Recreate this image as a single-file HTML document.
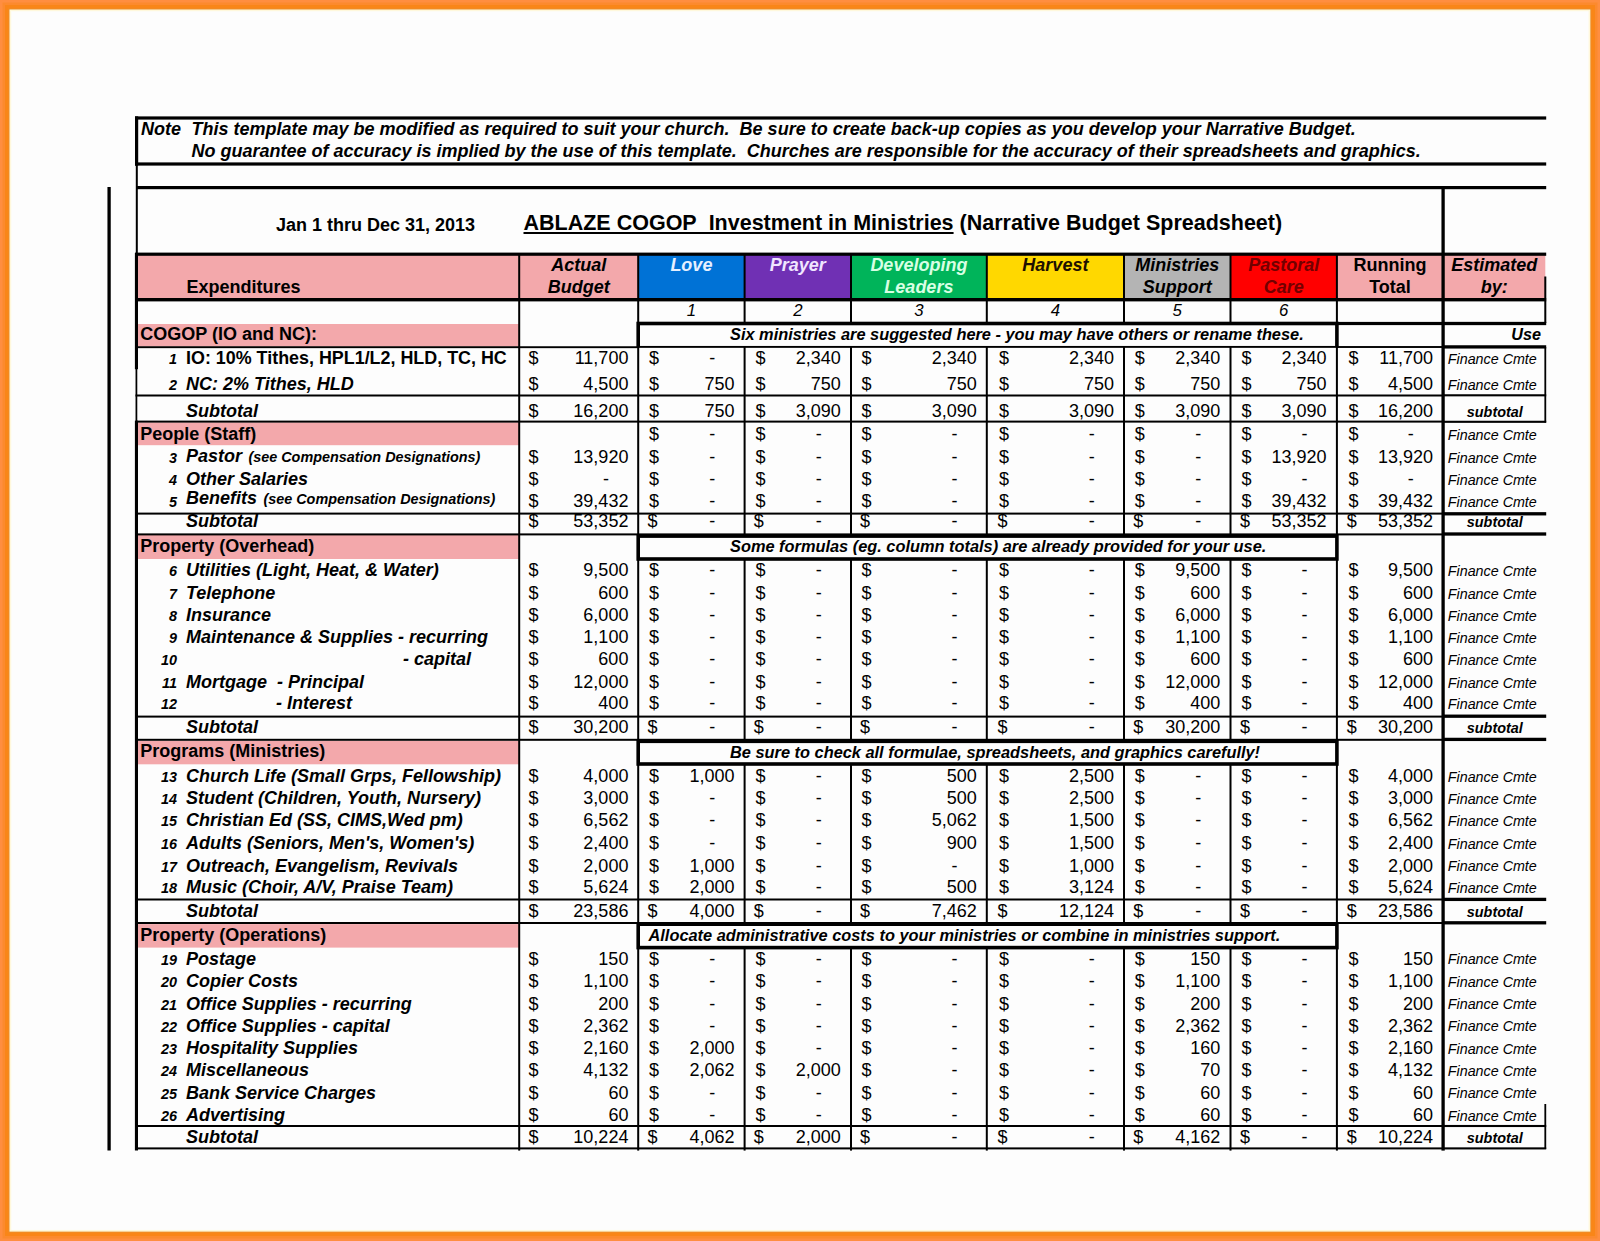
<!DOCTYPE html>
<html><head><meta charset="utf-8"><title>Narrative Budget Spreadsheet</title>
<style>
html,body{margin:0;padding:0;width:1600px;height:1241px;overflow:hidden;}
body{width:1600px;height:1241px;position:relative;overflow:hidden;background:#FA8A2A;font-family:"Liberation Sans",sans-serif;color:#000;}
svg{position:absolute;left:0;top:0;}
.t{position:absolute;white-space:nowrap;line-height:24px;height:24px;font-size:18px;}
.b{font-weight:bold;}
.i{font-style:italic;}
.bi{font-weight:bold;font-style:italic;}
.sm{font-size:14.4px;margin-left:1.4px;}
.u{text-decoration:underline;text-decoration-thickness:1.6px;text-underline-offset:2px;}
</style></head><body>
<svg width="1600" height="1241" viewBox="0 0 1600 1241">
<rect x="0" y="0" width="1600" height="1241" fill="#FF8E40"/>
<rect x="2.5" y="2.5" width="1595" height="1236" fill="#FC8A2E"/>
<rect x="5" y="5" width="1590" height="1231" fill="#F98618"/>
<rect x="8.6" y="8.6" width="1582.6000000000001" height="1223.9" fill="#E8902E"/>
<rect x="9.5" y="9.5" width="1580.8" height="1222.1" fill="#FFF8DC"/>
<rect x="11.2" y="11.2" width="1577.3999999999999" height="1218.7" fill="#FDFDFD"/>
<rect x="136.70" y="254.20" width="382.50" height="45.50" fill="#F3A8AB"/>
<rect x="519.20" y="254.20" width="119.00" height="45.50" fill="#F3A8AB"/>
<rect x="638.20" y="254.20" width="106.40" height="45.50" fill="#0072D6"/>
<rect x="744.60" y="254.20" width="106.40" height="45.50" fill="#7030B4"/>
<rect x="851.00" y="254.20" width="135.80" height="45.50" fill="#00B45A"/>
<rect x="986.80" y="254.20" width="137.20" height="45.50" fill="#FFD800"/>
<rect x="1124.00" y="254.20" width="106.50" height="45.50" fill="#B4B4B4"/>
<rect x="1230.50" y="254.20" width="106.40" height="45.50" fill="#FF0000"/>
<rect x="1336.90" y="254.20" width="106.20" height="45.50" fill="#F3A8AB"/>
<rect x="1443.10" y="254.20" width="102.20" height="45.50" fill="#F3A8AB"/>
<rect x="136.70" y="324.00" width="382.50" height="22.60" fill="#F3A8AB"/>
<rect x="136.70" y="422.30" width="382.50" height="22.90" fill="#F3A8AB"/>
<rect x="136.70" y="535.00" width="382.50" height="24.00" fill="#F3A8AB"/>
<rect x="136.70" y="740.90" width="382.50" height="23.40" fill="#F3A8AB"/>
<rect x="136.70" y="924.10" width="382.50" height="23.50" fill="#F3A8AB"/>
<rect x="107.45" y="187.00" width="3.30" height="963.50" fill="#000"/>
<rect x="135.00" y="116.40" width="1411.20" height="3.20" fill="#000"/>
<rect x="135.00" y="162.40" width="1411.20" height="3.20" fill="#000"/>
<rect x="135.00" y="116.40" width="3.20" height="49.20" fill="#000"/>
<rect x="135.80" y="165.00" width="2.00" height="88.00" fill="#000"/>
<rect x="136.00" y="186.00" width="1410.20" height="3.20" fill="#000"/>
<rect x="134.90" y="253.00" width="3.10" height="116.20" fill="#000"/>
<rect x="135.53" y="369.00" width="1.75" height="52.00" fill="#000"/>
<rect x="134.90" y="420.75" width="3.10" height="729.75" fill="#000"/>
<rect x="135.00" y="252.60" width="1411.20" height="3.20" fill="#000"/>
<rect x="135.00" y="298.00" width="1411.20" height="3.40" fill="#000"/>
<rect x="518.20" y="253.00" width="2.00" height="897.60" fill="#000"/>
<rect x="637.20" y="253.00" width="2.00" height="897.60" fill="#000"/>
<rect x="743.60" y="253.00" width="2.00" height="897.60" fill="#000"/>
<rect x="850.00" y="253.00" width="2.00" height="897.60" fill="#000"/>
<rect x="985.80" y="253.00" width="2.00" height="897.60" fill="#000"/>
<rect x="1123.00" y="253.00" width="2.00" height="897.60" fill="#000"/>
<rect x="1229.50" y="253.00" width="2.00" height="897.60" fill="#000"/>
<rect x="1335.90" y="253.00" width="2.00" height="897.60" fill="#000"/>
<rect x="1441.45" y="187.00" width="3.30" height="963.60" fill="#000"/>
<rect x="1544.30" y="276.50" width="2.00" height="46.50" fill="#000"/>
<rect x="1544.40" y="347.00" width="1.80" height="75.50" fill="#000"/>
<rect x="1544.40" y="1104.00" width="1.80" height="45.00" fill="#000"/>
<rect x="135.50" y="394.50" width="1307.60" height="2.00" fill="#000"/>
<rect x="135.50" y="420.60" width="1307.60" height="2.00" fill="#000"/>
<rect x="135.50" y="512.60" width="1307.60" height="2.00" fill="#000"/>
<rect x="135.50" y="533.40" width="1307.60" height="2.00" fill="#000"/>
<rect x="135.50" y="715.60" width="1307.60" height="2.00" fill="#000"/>
<rect x="135.50" y="738.80" width="1307.60" height="2.00" fill="#000"/>
<rect x="135.50" y="898.50" width="1307.60" height="2.00" fill="#000"/>
<rect x="135.50" y="922.00" width="1307.60" height="2.00" fill="#000"/>
<rect x="135.50" y="1125.00" width="1307.60" height="2.00" fill="#000"/>
<rect x="135.50" y="1147.40" width="1307.60" height="2.00" fill="#000"/>
<rect x="135.50" y="346.25" width="502.70" height="1.90" fill="#000"/>
<rect x="1336.90" y="346.05" width="106.20" height="1.90" fill="#000"/>
<rect x="1336.90" y="321.90" width="106.20" height="3.20" fill="#000"/>
<rect x="1443.10" y="321.85" width="103.10" height="3.30" fill="#000"/>
<rect x="1443.10" y="345.25" width="103.10" height="3.30" fill="#000"/>
<rect x="1443.10" y="512.15" width="103.10" height="3.30" fill="#000"/>
<rect x="1443.10" y="532.35" width="103.10" height="3.30" fill="#000"/>
<rect x="1443.10" y="714.55" width="103.10" height="3.30" fill="#000"/>
<rect x="1443.10" y="737.75" width="103.10" height="3.30" fill="#000"/>
<rect x="1443.10" y="897.75" width="103.10" height="3.30" fill="#000"/>
<rect x="1443.10" y="921.15" width="103.10" height="3.30" fill="#000"/>
<rect x="1443.10" y="394.25" width="103.10" height="2.10" fill="#000"/>
<rect x="1443.10" y="420.75" width="103.10" height="2.10" fill="#000"/>
<rect x="1443.10" y="1124.95" width="103.10" height="2.10" fill="#000"/>
<rect x="1443.10" y="1147.35" width="103.10" height="2.10" fill="#000"/>
<rect x="636.40" y="321.70" width="702.30" height="26.15" fill="#000"/>
<rect x="640.00" y="325.30" width="695.10" height="20.65" fill="#FDFDFD"/>
<rect x="636.40" y="534.30" width="702.30" height="26.50" fill="#000"/>
<rect x="640.00" y="537.90" width="695.10" height="19.30" fill="#FDFDFD"/>
<rect x="636.40" y="739.50" width="702.30" height="26.30" fill="#000"/>
<rect x="640.00" y="743.10" width="695.10" height="19.10" fill="#FDFDFD"/>
<rect x="636.40" y="922.40" width="702.30" height="27.00" fill="#000"/>
<rect x="640.00" y="926.00" width="695.10" height="19.80" fill="#FDFDFD"/>
</svg>
<div class="t bi" style="top:117px;font-size:18px;left:141.00px;">Note</div>
<div class="t bi" style="top:117px;font-size:18px;left:191.50px;">This template may be modified as required to suit your church.&nbsp; Be sure to create back-up copies as you develop your Narrative Budget.</div>
<div class="t bi" style="top:139px;font-size:18px;left:191.50px;">No guarantee of accuracy is implied by the use of this template.&nbsp; Churches are responsible for the accuracy of their spreadsheets and graphics.</div>
<div class="t b" style="top:213px;font-size:18px;left:276.00px;">Jan 1 thru Dec 31, 2013</div>
<div class="t b" style="top:211px;font-size:21.5px;left:523.50px;"><span class="u">ABLAZE COGOP&nbsp; Investment in Ministries</span> (Narrative Budget Spreadsheet)</div>
<div class="t b" style="top:275px;font-size:18px;left:186.40px;">Expenditures</div>
<div class="t bi" style="top:253px;font-size:18px;left:478.70px;width:200px;text-align:center;color:#000;">Actual</div>
<div class="t bi" style="top:275px;font-size:18px;left:478.70px;width:200px;text-align:center;color:#000;">Budget</div>
<div class="t bi" style="top:253px;font-size:18px;left:591.40px;width:200px;text-align:center;color:#E6F0FF;">Love</div>
<div class="t bi" style="top:253px;font-size:18px;left:697.80px;width:200px;text-align:center;color:#F0E6FF;">Prayer</div>
<div class="t bi" style="top:253px;font-size:18px;left:818.90px;width:200px;text-align:center;color:#D8FFE4;">Developing</div>
<div class="t bi" style="top:275px;font-size:18px;left:818.90px;width:200px;text-align:center;color:#D8FFE4;">Leaders</div>
<div class="t bi" style="top:253px;font-size:18px;left:955.40px;width:200px;text-align:center;color:#201000;">Harvest</div>
<div class="t bi" style="top:253px;font-size:18px;left:1077.25px;width:200px;text-align:center;color:#000;">Ministries</div>
<div class="t bi" style="top:275px;font-size:18px;left:1077.25px;width:200px;text-align:center;color:#000;">Support</div>
<div class="t bi" style="top:253px;font-size:18px;left:1183.70px;width:200px;text-align:center;color:#720000;">Pastoral</div>
<div class="t bi" style="top:275px;font-size:18px;left:1183.70px;width:200px;text-align:center;color:#720000;">Care</div>
<div class="t b" style="top:253px;font-size:18px;left:1290.00px;width:200px;text-align:center;color:#000;">Running</div>
<div class="t b" style="top:275px;font-size:18px;left:1290.00px;width:200px;text-align:center;color:#000;">Total</div>
<div class="t bi" style="top:253px;font-size:18px;left:1394.20px;width:200px;text-align:center;color:#000;">Estimated</div>
<div class="t bi" style="top:275px;font-size:18px;left:1394.20px;width:200px;text-align:center;color:#000;">by:</div>
<div class="t i" style="top:299px;font-size:16.8px;left:591.40px;width:200px;text-align:center;">1</div>
<div class="t i" style="top:299px;font-size:16.8px;left:697.80px;width:200px;text-align:center;">2</div>
<div class="t i" style="top:299px;font-size:16.8px;left:818.90px;width:200px;text-align:center;">3</div>
<div class="t i" style="top:299px;font-size:16.8px;left:955.40px;width:200px;text-align:center;">4</div>
<div class="t i" style="top:299px;font-size:16.8px;left:1077.25px;width:200px;text-align:center;">5</div>
<div class="t i" style="top:299px;font-size:16.8px;left:1183.70px;width:200px;text-align:center;">6</div>
<div class="t bi" style="top:322px;font-size:16.2px;right:59.00px;">Use</div>
<div class="t bi" style="top:322px;font-size:16.36px;left:730.00px;">Six ministries are suggested here - you may have others or rename these.</div>
<div class="t bi" style="top:534px;font-size:16.36px;left:730.00px;">Some formulas (eg. column totals) are already provided for your use.</div>
<div class="t bi" style="top:740px;font-size:16.36px;left:730.00px;">Be sure to check all formulae, spreadsheets, and graphics carefully!</div>
<div class="t bi" style="top:923px;font-size:16.36px;left:648.50px;">Allocate administrative costs to your ministries or combine in ministries support.</div>
<div class="t b" style="top:322px;font-size:18px;left:140.30px;">COGOP (IO and NC):</div>
<div class="t b" style="top:422px;font-size:18px;left:140.30px;">People (Staff)</div>
<div class="t b" style="top:534px;font-size:18px;left:140.30px;">Property (Overhead)</div>
<div class="t b" style="top:739px;font-size:18px;left:140.30px;">Programs (Ministries)</div>
<div class="t b" style="top:923px;font-size:18px;left:140.30px;">Property (Operations)</div>
<div class="t bi" style="top:347px;font-size:14.4px;right:1423.00px;">1</div>
<div class="t b" style="top:346px;font-size:18px;left:186.00px;"><span style="font-size:17.9px">IO: 10% Tithes, HPL1/L2, HLD, TC, HC</span></div>
<div class="t " style="top:346px;font-size:18px;left:528.60px;">$</div>
<div class="t " style="top:346px;font-size:18px;right:971.60px;">11,700</div>
<div class="t " style="top:346px;font-size:18px;left:649.00px;">$</div>
<div class="t " style="top:346px;font-size:18px;left:612.30px;width:200px;text-align:center;">-</div>
<div class="t " style="top:346px;font-size:18px;left:755.40px;">$</div>
<div class="t " style="top:346px;font-size:18px;right:759.20px;">2,340</div>
<div class="t " style="top:346px;font-size:18px;left:861.60px;">$</div>
<div class="t " style="top:346px;font-size:18px;right:623.20px;">2,340</div>
<div class="t " style="top:346px;font-size:18px;left:999.00px;">$</div>
<div class="t " style="top:346px;font-size:18px;right:486.00px;">2,340</div>
<div class="t " style="top:346px;font-size:18px;left:1134.80px;">$</div>
<div class="t " style="top:346px;font-size:18px;right:379.80px;">2,340</div>
<div class="t " style="top:346px;font-size:18px;left:1241.60px;">$</div>
<div class="t " style="top:346px;font-size:18px;right:273.40px;">2,340</div>
<div class="t " style="top:346px;font-size:18px;left:1348.40px;">$</div>
<div class="t " style="top:346px;font-size:18px;right:167.00px;">11,700</div>
<div class="t i" style="top:347px;font-size:14.3px;left:1447.80px;">Finance Cmte</div>
<div class="t bi" style="top:373px;font-size:14.4px;right:1423.00px;">2</div>
<div class="t bi" style="top:372px;font-size:18px;left:186.00px;">NC: 2% Tithes, HLD</div>
<div class="t " style="top:372px;font-size:18px;left:528.60px;">$</div>
<div class="t " style="top:372px;font-size:18px;right:971.60px;">4,500</div>
<div class="t " style="top:372px;font-size:18px;left:649.00px;">$</div>
<div class="t " style="top:372px;font-size:18px;right:865.40px;">750</div>
<div class="t " style="top:372px;font-size:18px;left:755.40px;">$</div>
<div class="t " style="top:372px;font-size:18px;right:759.20px;">750</div>
<div class="t " style="top:372px;font-size:18px;left:861.60px;">$</div>
<div class="t " style="top:372px;font-size:18px;right:623.20px;">750</div>
<div class="t " style="top:372px;font-size:18px;left:999.00px;">$</div>
<div class="t " style="top:372px;font-size:18px;right:486.00px;">750</div>
<div class="t " style="top:372px;font-size:18px;left:1134.80px;">$</div>
<div class="t " style="top:372px;font-size:18px;right:379.80px;">750</div>
<div class="t " style="top:372px;font-size:18px;left:1241.60px;">$</div>
<div class="t " style="top:372px;font-size:18px;right:273.40px;">750</div>
<div class="t " style="top:372px;font-size:18px;left:1348.40px;">$</div>
<div class="t " style="top:372px;font-size:18px;right:167.00px;">4,500</div>
<div class="t i" style="top:373px;font-size:14.3px;left:1447.80px;">Finance Cmte</div>
<div class="t bi" style="top:399px;font-size:18px;left:186.00px;">Subtotal</div>
<div class="t " style="top:399px;font-size:18px;left:528.60px;">$</div>
<div class="t " style="top:399px;font-size:18px;right:971.60px;">16,200</div>
<div class="t " style="top:399px;font-size:18px;left:649.00px;">$</div>
<div class="t " style="top:399px;font-size:18px;right:865.40px;">750</div>
<div class="t " style="top:399px;font-size:18px;left:755.40px;">$</div>
<div class="t " style="top:399px;font-size:18px;right:759.20px;">3,090</div>
<div class="t " style="top:399px;font-size:18px;left:861.60px;">$</div>
<div class="t " style="top:399px;font-size:18px;right:623.20px;">3,090</div>
<div class="t " style="top:399px;font-size:18px;left:999.00px;">$</div>
<div class="t " style="top:399px;font-size:18px;right:486.00px;">3,090</div>
<div class="t " style="top:399px;font-size:18px;left:1134.80px;">$</div>
<div class="t " style="top:399px;font-size:18px;right:379.80px;">3,090</div>
<div class="t " style="top:399px;font-size:18px;left:1241.60px;">$</div>
<div class="t " style="top:399px;font-size:18px;right:273.40px;">3,090</div>
<div class="t " style="top:399px;font-size:18px;left:1348.40px;">$</div>
<div class="t " style="top:399px;font-size:18px;right:167.00px;">16,200</div>
<div class="t bi" style="top:400px;font-size:14.4px;left:1394.80px;width:200px;text-align:center;">subtotal</div>
<div class="t " style="top:422px;font-size:18px;left:649.00px;">$</div>
<div class="t " style="top:422px;font-size:18px;left:612.30px;width:200px;text-align:center;">-</div>
<div class="t " style="top:422px;font-size:18px;left:755.40px;">$</div>
<div class="t " style="top:422px;font-size:18px;left:718.70px;width:200px;text-align:center;">-</div>
<div class="t " style="top:422px;font-size:18px;left:861.60px;">$</div>
<div class="t " style="top:422px;font-size:18px;left:854.50px;width:200px;text-align:center;">-</div>
<div class="t " style="top:422px;font-size:18px;left:999.00px;">$</div>
<div class="t " style="top:422px;font-size:18px;left:991.70px;width:200px;text-align:center;">-</div>
<div class="t " style="top:422px;font-size:18px;left:1134.80px;">$</div>
<div class="t " style="top:422px;font-size:18px;left:1098.20px;width:200px;text-align:center;">-</div>
<div class="t " style="top:422px;font-size:18px;left:1241.60px;">$</div>
<div class="t " style="top:422px;font-size:18px;left:1204.60px;width:200px;text-align:center;">-</div>
<div class="t " style="top:422px;font-size:18px;left:1348.40px;">$</div>
<div class="t " style="top:422px;font-size:18px;left:1310.80px;width:200px;text-align:center;">-</div>
<div class="t i" style="top:423px;font-size:14.3px;left:1447.80px;">Finance Cmte</div>
<div class="t bi" style="top:446px;font-size:14.4px;right:1423.00px;">3</div>
<div class="t bi" style="top:444px;font-size:18px;left:186.00px;">Pastor <span class="sm">(see Compensation Designations)</span></div>
<div class="t " style="top:445px;font-size:18px;left:528.60px;">$</div>
<div class="t " style="top:445px;font-size:18px;right:971.60px;">13,920</div>
<div class="t " style="top:445px;font-size:18px;left:649.00px;">$</div>
<div class="t " style="top:445px;font-size:18px;left:612.30px;width:200px;text-align:center;">-</div>
<div class="t " style="top:445px;font-size:18px;left:755.40px;">$</div>
<div class="t " style="top:445px;font-size:18px;left:718.70px;width:200px;text-align:center;">-</div>
<div class="t " style="top:445px;font-size:18px;left:861.60px;">$</div>
<div class="t " style="top:445px;font-size:18px;left:854.50px;width:200px;text-align:center;">-</div>
<div class="t " style="top:445px;font-size:18px;left:999.00px;">$</div>
<div class="t " style="top:445px;font-size:18px;left:991.70px;width:200px;text-align:center;">-</div>
<div class="t " style="top:445px;font-size:18px;left:1134.80px;">$</div>
<div class="t " style="top:445px;font-size:18px;left:1098.20px;width:200px;text-align:center;">-</div>
<div class="t " style="top:445px;font-size:18px;left:1241.60px;">$</div>
<div class="t " style="top:445px;font-size:18px;right:273.40px;">13,920</div>
<div class="t " style="top:445px;font-size:18px;left:1348.40px;">$</div>
<div class="t " style="top:445px;font-size:18px;right:167.00px;">13,920</div>
<div class="t i" style="top:446px;font-size:14.3px;left:1447.80px;">Finance Cmte</div>
<div class="t bi" style="top:468px;font-size:14.4px;right:1423.00px;">4</div>
<div class="t bi" style="top:467px;font-size:18px;left:186.00px;">Other Salaries</div>
<div class="t " style="top:467px;font-size:18px;left:528.60px;">$</div>
<div class="t " style="top:467px;font-size:18px;left:505.90px;width:200px;text-align:center;">-</div>
<div class="t " style="top:467px;font-size:18px;left:649.00px;">$</div>
<div class="t " style="top:467px;font-size:18px;left:612.30px;width:200px;text-align:center;">-</div>
<div class="t " style="top:467px;font-size:18px;left:755.40px;">$</div>
<div class="t " style="top:467px;font-size:18px;left:718.70px;width:200px;text-align:center;">-</div>
<div class="t " style="top:467px;font-size:18px;left:861.60px;">$</div>
<div class="t " style="top:467px;font-size:18px;left:854.50px;width:200px;text-align:center;">-</div>
<div class="t " style="top:467px;font-size:18px;left:999.00px;">$</div>
<div class="t " style="top:467px;font-size:18px;left:991.70px;width:200px;text-align:center;">-</div>
<div class="t " style="top:467px;font-size:18px;left:1134.80px;">$</div>
<div class="t " style="top:467px;font-size:18px;left:1098.20px;width:200px;text-align:center;">-</div>
<div class="t " style="top:467px;font-size:18px;left:1241.60px;">$</div>
<div class="t " style="top:467px;font-size:18px;left:1204.60px;width:200px;text-align:center;">-</div>
<div class="t " style="top:467px;font-size:18px;left:1348.40px;">$</div>
<div class="t " style="top:467px;font-size:18px;left:1310.80px;width:200px;text-align:center;">-</div>
<div class="t i" style="top:468px;font-size:14.3px;left:1447.80px;">Finance Cmte</div>
<div class="t bi" style="top:490px;font-size:14.4px;right:1423.00px;">5</div>
<div class="t bi" style="top:486px;font-size:18px;left:186.00px;">Benefits <span class="sm">(see Compensation Designations)</span></div>
<div class="t " style="top:489px;font-size:18px;left:528.60px;">$</div>
<div class="t " style="top:489px;font-size:18px;right:971.60px;">39,432</div>
<div class="t " style="top:489px;font-size:18px;left:649.00px;">$</div>
<div class="t " style="top:489px;font-size:18px;left:612.30px;width:200px;text-align:center;">-</div>
<div class="t " style="top:489px;font-size:18px;left:755.40px;">$</div>
<div class="t " style="top:489px;font-size:18px;left:718.70px;width:200px;text-align:center;">-</div>
<div class="t " style="top:489px;font-size:18px;left:861.60px;">$</div>
<div class="t " style="top:489px;font-size:18px;left:854.50px;width:200px;text-align:center;">-</div>
<div class="t " style="top:489px;font-size:18px;left:999.00px;">$</div>
<div class="t " style="top:489px;font-size:18px;left:991.70px;width:200px;text-align:center;">-</div>
<div class="t " style="top:489px;font-size:18px;left:1134.80px;">$</div>
<div class="t " style="top:489px;font-size:18px;left:1098.20px;width:200px;text-align:center;">-</div>
<div class="t " style="top:489px;font-size:18px;left:1241.60px;">$</div>
<div class="t " style="top:489px;font-size:18px;right:273.40px;">39,432</div>
<div class="t " style="top:489px;font-size:18px;left:1348.40px;">$</div>
<div class="t " style="top:489px;font-size:18px;right:167.00px;">39,432</div>
<div class="t i" style="top:490px;font-size:14.3px;left:1447.80px;">Finance Cmte</div>
<div class="t bi" style="top:509px;font-size:18px;left:186.00px;">Subtotal</div>
<div class="t " style="top:509px;font-size:18px;left:528.60px;">$</div>
<div class="t " style="top:509px;font-size:18px;right:971.60px;">53,352</div>
<div class="t " style="top:509px;font-size:18px;left:647.40px;">$</div>
<div class="t " style="top:509px;font-size:18px;left:612.30px;width:200px;text-align:center;">-</div>
<div class="t " style="top:509px;font-size:18px;left:753.80px;">$</div>
<div class="t " style="top:509px;font-size:18px;left:718.70px;width:200px;text-align:center;">-</div>
<div class="t " style="top:509px;font-size:18px;left:860.00px;">$</div>
<div class="t " style="top:509px;font-size:18px;left:854.50px;width:200px;text-align:center;">-</div>
<div class="t " style="top:509px;font-size:18px;left:997.40px;">$</div>
<div class="t " style="top:509px;font-size:18px;left:991.70px;width:200px;text-align:center;">-</div>
<div class="t " style="top:509px;font-size:18px;left:1133.20px;">$</div>
<div class="t " style="top:509px;font-size:18px;left:1098.20px;width:200px;text-align:center;">-</div>
<div class="t " style="top:509px;font-size:18px;left:1240.00px;">$</div>
<div class="t " style="top:509px;font-size:18px;right:273.40px;">53,352</div>
<div class="t " style="top:509px;font-size:18px;left:1346.80px;">$</div>
<div class="t " style="top:509px;font-size:18px;right:167.00px;">53,352</div>
<div class="t bi" style="top:510px;font-size:14.4px;left:1394.80px;width:200px;text-align:center;">subtotal</div>
<div class="t bi" style="top:559px;font-size:14.4px;right:1423.00px;">6</div>
<div class="t bi" style="top:558px;font-size:18px;left:186.00px;">Utilities (Light, Heat, &amp; Water)</div>
<div class="t " style="top:558px;font-size:18px;left:528.60px;">$</div>
<div class="t " style="top:558px;font-size:18px;right:971.60px;">9,500</div>
<div class="t " style="top:558px;font-size:18px;left:649.00px;">$</div>
<div class="t " style="top:558px;font-size:18px;left:612.30px;width:200px;text-align:center;">-</div>
<div class="t " style="top:558px;font-size:18px;left:755.40px;">$</div>
<div class="t " style="top:558px;font-size:18px;left:718.70px;width:200px;text-align:center;">-</div>
<div class="t " style="top:558px;font-size:18px;left:861.60px;">$</div>
<div class="t " style="top:558px;font-size:18px;left:854.50px;width:200px;text-align:center;">-</div>
<div class="t " style="top:558px;font-size:18px;left:999.00px;">$</div>
<div class="t " style="top:558px;font-size:18px;left:991.70px;width:200px;text-align:center;">-</div>
<div class="t " style="top:558px;font-size:18px;left:1134.80px;">$</div>
<div class="t " style="top:558px;font-size:18px;right:379.80px;">9,500</div>
<div class="t " style="top:558px;font-size:18px;left:1241.60px;">$</div>
<div class="t " style="top:558px;font-size:18px;left:1204.60px;width:200px;text-align:center;">-</div>
<div class="t " style="top:558px;font-size:18px;left:1348.40px;">$</div>
<div class="t " style="top:558px;font-size:18px;right:167.00px;">9,500</div>
<div class="t i" style="top:559px;font-size:14.3px;left:1447.80px;">Finance Cmte</div>
<div class="t bi" style="top:582px;font-size:14.4px;right:1423.00px;">7</div>
<div class="t bi" style="top:581px;font-size:18px;left:186.00px;">Telephone</div>
<div class="t " style="top:581px;font-size:18px;left:528.60px;">$</div>
<div class="t " style="top:581px;font-size:18px;right:971.60px;">600</div>
<div class="t " style="top:581px;font-size:18px;left:649.00px;">$</div>
<div class="t " style="top:581px;font-size:18px;left:612.30px;width:200px;text-align:center;">-</div>
<div class="t " style="top:581px;font-size:18px;left:755.40px;">$</div>
<div class="t " style="top:581px;font-size:18px;left:718.70px;width:200px;text-align:center;">-</div>
<div class="t " style="top:581px;font-size:18px;left:861.60px;">$</div>
<div class="t " style="top:581px;font-size:18px;left:854.50px;width:200px;text-align:center;">-</div>
<div class="t " style="top:581px;font-size:18px;left:999.00px;">$</div>
<div class="t " style="top:581px;font-size:18px;left:991.70px;width:200px;text-align:center;">-</div>
<div class="t " style="top:581px;font-size:18px;left:1134.80px;">$</div>
<div class="t " style="top:581px;font-size:18px;right:379.80px;">600</div>
<div class="t " style="top:581px;font-size:18px;left:1241.60px;">$</div>
<div class="t " style="top:581px;font-size:18px;left:1204.60px;width:200px;text-align:center;">-</div>
<div class="t " style="top:581px;font-size:18px;left:1348.40px;">$</div>
<div class="t " style="top:581px;font-size:18px;right:167.00px;">600</div>
<div class="t i" style="top:582px;font-size:14.3px;left:1447.80px;">Finance Cmte</div>
<div class="t bi" style="top:604px;font-size:14.4px;right:1423.00px;">8</div>
<div class="t bi" style="top:603px;font-size:18px;left:186.00px;">Insurance</div>
<div class="t " style="top:603px;font-size:18px;left:528.60px;">$</div>
<div class="t " style="top:603px;font-size:18px;right:971.60px;">6,000</div>
<div class="t " style="top:603px;font-size:18px;left:649.00px;">$</div>
<div class="t " style="top:603px;font-size:18px;left:612.30px;width:200px;text-align:center;">-</div>
<div class="t " style="top:603px;font-size:18px;left:755.40px;">$</div>
<div class="t " style="top:603px;font-size:18px;left:718.70px;width:200px;text-align:center;">-</div>
<div class="t " style="top:603px;font-size:18px;left:861.60px;">$</div>
<div class="t " style="top:603px;font-size:18px;left:854.50px;width:200px;text-align:center;">-</div>
<div class="t " style="top:603px;font-size:18px;left:999.00px;">$</div>
<div class="t " style="top:603px;font-size:18px;left:991.70px;width:200px;text-align:center;">-</div>
<div class="t " style="top:603px;font-size:18px;left:1134.80px;">$</div>
<div class="t " style="top:603px;font-size:18px;right:379.80px;">6,000</div>
<div class="t " style="top:603px;font-size:18px;left:1241.60px;">$</div>
<div class="t " style="top:603px;font-size:18px;left:1204.60px;width:200px;text-align:center;">-</div>
<div class="t " style="top:603px;font-size:18px;left:1348.40px;">$</div>
<div class="t " style="top:603px;font-size:18px;right:167.00px;">6,000</div>
<div class="t i" style="top:604px;font-size:14.3px;left:1447.80px;">Finance Cmte</div>
<div class="t bi" style="top:626px;font-size:14.4px;right:1423.00px;">9</div>
<div class="t bi" style="top:625px;font-size:18px;left:186.00px;">Maintenance &amp; Supplies - recurring</div>
<div class="t " style="top:625px;font-size:18px;left:528.60px;">$</div>
<div class="t " style="top:625px;font-size:18px;right:971.60px;">1,100</div>
<div class="t " style="top:625px;font-size:18px;left:649.00px;">$</div>
<div class="t " style="top:625px;font-size:18px;left:612.30px;width:200px;text-align:center;">-</div>
<div class="t " style="top:625px;font-size:18px;left:755.40px;">$</div>
<div class="t " style="top:625px;font-size:18px;left:718.70px;width:200px;text-align:center;">-</div>
<div class="t " style="top:625px;font-size:18px;left:861.60px;">$</div>
<div class="t " style="top:625px;font-size:18px;left:854.50px;width:200px;text-align:center;">-</div>
<div class="t " style="top:625px;font-size:18px;left:999.00px;">$</div>
<div class="t " style="top:625px;font-size:18px;left:991.70px;width:200px;text-align:center;">-</div>
<div class="t " style="top:625px;font-size:18px;left:1134.80px;">$</div>
<div class="t " style="top:625px;font-size:18px;right:379.80px;">1,100</div>
<div class="t " style="top:625px;font-size:18px;left:1241.60px;">$</div>
<div class="t " style="top:625px;font-size:18px;left:1204.60px;width:200px;text-align:center;">-</div>
<div class="t " style="top:625px;font-size:18px;left:1348.40px;">$</div>
<div class="t " style="top:625px;font-size:18px;right:167.00px;">1,100</div>
<div class="t i" style="top:626px;font-size:14.3px;left:1447.80px;">Finance Cmte</div>
<div class="t bi" style="top:648px;font-size:14.4px;right:1423.00px;">10</div>
<div class="t bi" style="top:647px;font-size:18px;left:403.00px;">- capital</div>
<div class="t " style="top:647px;font-size:18px;left:528.60px;">$</div>
<div class="t " style="top:647px;font-size:18px;right:971.60px;">600</div>
<div class="t " style="top:647px;font-size:18px;left:649.00px;">$</div>
<div class="t " style="top:647px;font-size:18px;left:612.30px;width:200px;text-align:center;">-</div>
<div class="t " style="top:647px;font-size:18px;left:755.40px;">$</div>
<div class="t " style="top:647px;font-size:18px;left:718.70px;width:200px;text-align:center;">-</div>
<div class="t " style="top:647px;font-size:18px;left:861.60px;">$</div>
<div class="t " style="top:647px;font-size:18px;left:854.50px;width:200px;text-align:center;">-</div>
<div class="t " style="top:647px;font-size:18px;left:999.00px;">$</div>
<div class="t " style="top:647px;font-size:18px;left:991.70px;width:200px;text-align:center;">-</div>
<div class="t " style="top:647px;font-size:18px;left:1134.80px;">$</div>
<div class="t " style="top:647px;font-size:18px;right:379.80px;">600</div>
<div class="t " style="top:647px;font-size:18px;left:1241.60px;">$</div>
<div class="t " style="top:647px;font-size:18px;left:1204.60px;width:200px;text-align:center;">-</div>
<div class="t " style="top:647px;font-size:18px;left:1348.40px;">$</div>
<div class="t " style="top:647px;font-size:18px;right:167.00px;">600</div>
<div class="t i" style="top:648px;font-size:14.3px;left:1447.80px;">Finance Cmte</div>
<div class="t bi" style="top:671px;font-size:14.4px;right:1423.00px;">11</div>
<div class="t bi" style="top:670px;font-size:18px;left:186.00px;">Mortgage&nbsp; - Principal</div>
<div class="t " style="top:670px;font-size:18px;left:528.60px;">$</div>
<div class="t " style="top:670px;font-size:18px;right:971.60px;">12,000</div>
<div class="t " style="top:670px;font-size:18px;left:649.00px;">$</div>
<div class="t " style="top:670px;font-size:18px;left:612.30px;width:200px;text-align:center;">-</div>
<div class="t " style="top:670px;font-size:18px;left:755.40px;">$</div>
<div class="t " style="top:670px;font-size:18px;left:718.70px;width:200px;text-align:center;">-</div>
<div class="t " style="top:670px;font-size:18px;left:861.60px;">$</div>
<div class="t " style="top:670px;font-size:18px;left:854.50px;width:200px;text-align:center;">-</div>
<div class="t " style="top:670px;font-size:18px;left:999.00px;">$</div>
<div class="t " style="top:670px;font-size:18px;left:991.70px;width:200px;text-align:center;">-</div>
<div class="t " style="top:670px;font-size:18px;left:1134.80px;">$</div>
<div class="t " style="top:670px;font-size:18px;right:379.80px;">12,000</div>
<div class="t " style="top:670px;font-size:18px;left:1241.60px;">$</div>
<div class="t " style="top:670px;font-size:18px;left:1204.60px;width:200px;text-align:center;">-</div>
<div class="t " style="top:670px;font-size:18px;left:1348.40px;">$</div>
<div class="t " style="top:670px;font-size:18px;right:167.00px;">12,000</div>
<div class="t i" style="top:671px;font-size:14.3px;left:1447.80px;">Finance Cmte</div>
<div class="t bi" style="top:692px;font-size:14.4px;right:1423.00px;">12</div>
<div class="t bi" style="top:691px;font-size:18px;left:276.00px;">- Interest</div>
<div class="t " style="top:691px;font-size:18px;left:528.60px;">$</div>
<div class="t " style="top:691px;font-size:18px;right:971.60px;">400</div>
<div class="t " style="top:691px;font-size:18px;left:649.00px;">$</div>
<div class="t " style="top:691px;font-size:18px;left:612.30px;width:200px;text-align:center;">-</div>
<div class="t " style="top:691px;font-size:18px;left:755.40px;">$</div>
<div class="t " style="top:691px;font-size:18px;left:718.70px;width:200px;text-align:center;">-</div>
<div class="t " style="top:691px;font-size:18px;left:861.60px;">$</div>
<div class="t " style="top:691px;font-size:18px;left:854.50px;width:200px;text-align:center;">-</div>
<div class="t " style="top:691px;font-size:18px;left:999.00px;">$</div>
<div class="t " style="top:691px;font-size:18px;left:991.70px;width:200px;text-align:center;">-</div>
<div class="t " style="top:691px;font-size:18px;left:1134.80px;">$</div>
<div class="t " style="top:691px;font-size:18px;right:379.80px;">400</div>
<div class="t " style="top:691px;font-size:18px;left:1241.60px;">$</div>
<div class="t " style="top:691px;font-size:18px;left:1204.60px;width:200px;text-align:center;">-</div>
<div class="t " style="top:691px;font-size:18px;left:1348.40px;">$</div>
<div class="t " style="top:691px;font-size:18px;right:167.00px;">400</div>
<div class="t i" style="top:692px;font-size:14.3px;left:1447.80px;">Finance Cmte</div>
<div class="t bi" style="top:715px;font-size:18px;left:186.00px;">Subtotal</div>
<div class="t " style="top:715px;font-size:18px;left:528.60px;">$</div>
<div class="t " style="top:715px;font-size:18px;right:971.60px;">30,200</div>
<div class="t " style="top:715px;font-size:18px;left:647.40px;">$</div>
<div class="t " style="top:715px;font-size:18px;left:612.30px;width:200px;text-align:center;">-</div>
<div class="t " style="top:715px;font-size:18px;left:753.80px;">$</div>
<div class="t " style="top:715px;font-size:18px;left:718.70px;width:200px;text-align:center;">-</div>
<div class="t " style="top:715px;font-size:18px;left:860.00px;">$</div>
<div class="t " style="top:715px;font-size:18px;left:854.50px;width:200px;text-align:center;">-</div>
<div class="t " style="top:715px;font-size:18px;left:997.40px;">$</div>
<div class="t " style="top:715px;font-size:18px;left:991.70px;width:200px;text-align:center;">-</div>
<div class="t " style="top:715px;font-size:18px;left:1133.20px;">$</div>
<div class="t " style="top:715px;font-size:18px;right:379.80px;">30,200</div>
<div class="t " style="top:715px;font-size:18px;left:1240.00px;">$</div>
<div class="t " style="top:715px;font-size:18px;left:1204.60px;width:200px;text-align:center;">-</div>
<div class="t " style="top:715px;font-size:18px;left:1346.80px;">$</div>
<div class="t " style="top:715px;font-size:18px;right:167.00px;">30,200</div>
<div class="t bi" style="top:716px;font-size:14.4px;left:1394.80px;width:200px;text-align:center;">subtotal</div>
<div class="t bi" style="top:765px;font-size:14.4px;right:1423.00px;">13</div>
<div class="t bi" style="top:764px;font-size:18px;left:186.00px;">Church Life (Small Grps, Fellowship)</div>
<div class="t " style="top:764px;font-size:18px;left:528.60px;">$</div>
<div class="t " style="top:764px;font-size:18px;right:971.60px;">4,000</div>
<div class="t " style="top:764px;font-size:18px;left:649.00px;">$</div>
<div class="t " style="top:764px;font-size:18px;right:865.40px;">1,000</div>
<div class="t " style="top:764px;font-size:18px;left:755.40px;">$</div>
<div class="t " style="top:764px;font-size:18px;left:718.70px;width:200px;text-align:center;">-</div>
<div class="t " style="top:764px;font-size:18px;left:861.60px;">$</div>
<div class="t " style="top:764px;font-size:18px;right:623.20px;">500</div>
<div class="t " style="top:764px;font-size:18px;left:999.00px;">$</div>
<div class="t " style="top:764px;font-size:18px;right:486.00px;">2,500</div>
<div class="t " style="top:764px;font-size:18px;left:1134.80px;">$</div>
<div class="t " style="top:764px;font-size:18px;left:1098.20px;width:200px;text-align:center;">-</div>
<div class="t " style="top:764px;font-size:18px;left:1241.60px;">$</div>
<div class="t " style="top:764px;font-size:18px;left:1204.60px;width:200px;text-align:center;">-</div>
<div class="t " style="top:764px;font-size:18px;left:1348.40px;">$</div>
<div class="t " style="top:764px;font-size:18px;right:167.00px;">4,000</div>
<div class="t i" style="top:765px;font-size:14.3px;left:1447.80px;">Finance Cmte</div>
<div class="t bi" style="top:787px;font-size:14.4px;right:1423.00px;">14</div>
<div class="t bi" style="top:786px;font-size:18px;left:186.00px;">Student (Children, Youth, Nursery)</div>
<div class="t " style="top:786px;font-size:18px;left:528.60px;">$</div>
<div class="t " style="top:786px;font-size:18px;right:971.60px;">3,000</div>
<div class="t " style="top:786px;font-size:18px;left:649.00px;">$</div>
<div class="t " style="top:786px;font-size:18px;left:612.30px;width:200px;text-align:center;">-</div>
<div class="t " style="top:786px;font-size:18px;left:755.40px;">$</div>
<div class="t " style="top:786px;font-size:18px;left:718.70px;width:200px;text-align:center;">-</div>
<div class="t " style="top:786px;font-size:18px;left:861.60px;">$</div>
<div class="t " style="top:786px;font-size:18px;right:623.20px;">500</div>
<div class="t " style="top:786px;font-size:18px;left:999.00px;">$</div>
<div class="t " style="top:786px;font-size:18px;right:486.00px;">2,500</div>
<div class="t " style="top:786px;font-size:18px;left:1134.80px;">$</div>
<div class="t " style="top:786px;font-size:18px;left:1098.20px;width:200px;text-align:center;">-</div>
<div class="t " style="top:786px;font-size:18px;left:1241.60px;">$</div>
<div class="t " style="top:786px;font-size:18px;left:1204.60px;width:200px;text-align:center;">-</div>
<div class="t " style="top:786px;font-size:18px;left:1348.40px;">$</div>
<div class="t " style="top:786px;font-size:18px;right:167.00px;">3,000</div>
<div class="t i" style="top:787px;font-size:14.3px;left:1447.80px;">Finance Cmte</div>
<div class="t bi" style="top:809px;font-size:14.4px;right:1423.00px;">15</div>
<div class="t bi" style="top:808px;font-size:18px;left:186.00px;">Christian Ed (SS, CIMS,Wed pm)</div>
<div class="t " style="top:808px;font-size:18px;left:528.60px;">$</div>
<div class="t " style="top:808px;font-size:18px;right:971.60px;">6,562</div>
<div class="t " style="top:808px;font-size:18px;left:649.00px;">$</div>
<div class="t " style="top:808px;font-size:18px;left:612.30px;width:200px;text-align:center;">-</div>
<div class="t " style="top:808px;font-size:18px;left:755.40px;">$</div>
<div class="t " style="top:808px;font-size:18px;left:718.70px;width:200px;text-align:center;">-</div>
<div class="t " style="top:808px;font-size:18px;left:861.60px;">$</div>
<div class="t " style="top:808px;font-size:18px;right:623.20px;">5,062</div>
<div class="t " style="top:808px;font-size:18px;left:999.00px;">$</div>
<div class="t " style="top:808px;font-size:18px;right:486.00px;">1,500</div>
<div class="t " style="top:808px;font-size:18px;left:1134.80px;">$</div>
<div class="t " style="top:808px;font-size:18px;left:1098.20px;width:200px;text-align:center;">-</div>
<div class="t " style="top:808px;font-size:18px;left:1241.60px;">$</div>
<div class="t " style="top:808px;font-size:18px;left:1204.60px;width:200px;text-align:center;">-</div>
<div class="t " style="top:808px;font-size:18px;left:1348.40px;">$</div>
<div class="t " style="top:808px;font-size:18px;right:167.00px;">6,562</div>
<div class="t i" style="top:809px;font-size:14.3px;left:1447.80px;">Finance Cmte</div>
<div class="t bi" style="top:832px;font-size:14.4px;right:1423.00px;">16</div>
<div class="t bi" style="top:831px;font-size:18px;left:186.00px;">Adults (Seniors, Men's, Women's)</div>
<div class="t " style="top:831px;font-size:18px;left:528.60px;">$</div>
<div class="t " style="top:831px;font-size:18px;right:971.60px;">2,400</div>
<div class="t " style="top:831px;font-size:18px;left:649.00px;">$</div>
<div class="t " style="top:831px;font-size:18px;left:612.30px;width:200px;text-align:center;">-</div>
<div class="t " style="top:831px;font-size:18px;left:755.40px;">$</div>
<div class="t " style="top:831px;font-size:18px;left:718.70px;width:200px;text-align:center;">-</div>
<div class="t " style="top:831px;font-size:18px;left:861.60px;">$</div>
<div class="t " style="top:831px;font-size:18px;right:623.20px;">900</div>
<div class="t " style="top:831px;font-size:18px;left:999.00px;">$</div>
<div class="t " style="top:831px;font-size:18px;right:486.00px;">1,500</div>
<div class="t " style="top:831px;font-size:18px;left:1134.80px;">$</div>
<div class="t " style="top:831px;font-size:18px;left:1098.20px;width:200px;text-align:center;">-</div>
<div class="t " style="top:831px;font-size:18px;left:1241.60px;">$</div>
<div class="t " style="top:831px;font-size:18px;left:1204.60px;width:200px;text-align:center;">-</div>
<div class="t " style="top:831px;font-size:18px;left:1348.40px;">$</div>
<div class="t " style="top:831px;font-size:18px;right:167.00px;">2,400</div>
<div class="t i" style="top:832px;font-size:14.3px;left:1447.80px;">Finance Cmte</div>
<div class="t bi" style="top:855px;font-size:14.4px;right:1423.00px;">17</div>
<div class="t bi" style="top:854px;font-size:18px;left:186.00px;">Outreach, Evangelism, Revivals</div>
<div class="t " style="top:854px;font-size:18px;left:528.60px;">$</div>
<div class="t " style="top:854px;font-size:18px;right:971.60px;">2,000</div>
<div class="t " style="top:854px;font-size:18px;left:649.00px;">$</div>
<div class="t " style="top:854px;font-size:18px;right:865.40px;">1,000</div>
<div class="t " style="top:854px;font-size:18px;left:755.40px;">$</div>
<div class="t " style="top:854px;font-size:18px;left:718.70px;width:200px;text-align:center;">-</div>
<div class="t " style="top:854px;font-size:18px;left:861.60px;">$</div>
<div class="t " style="top:854px;font-size:18px;left:854.50px;width:200px;text-align:center;">-</div>
<div class="t " style="top:854px;font-size:18px;left:999.00px;">$</div>
<div class="t " style="top:854px;font-size:18px;right:486.00px;">1,000</div>
<div class="t " style="top:854px;font-size:18px;left:1134.80px;">$</div>
<div class="t " style="top:854px;font-size:18px;left:1098.20px;width:200px;text-align:center;">-</div>
<div class="t " style="top:854px;font-size:18px;left:1241.60px;">$</div>
<div class="t " style="top:854px;font-size:18px;left:1204.60px;width:200px;text-align:center;">-</div>
<div class="t " style="top:854px;font-size:18px;left:1348.40px;">$</div>
<div class="t " style="top:854px;font-size:18px;right:167.00px;">2,000</div>
<div class="t i" style="top:854px;font-size:14.3px;left:1447.80px;">Finance Cmte</div>
<div class="t bi" style="top:876px;font-size:14.4px;right:1423.00px;">18</div>
<div class="t bi" style="top:875px;font-size:18px;left:186.00px;">Music (Choir, A/V, Praise Team)</div>
<div class="t " style="top:875px;font-size:18px;left:528.60px;">$</div>
<div class="t " style="top:875px;font-size:18px;right:971.60px;">5,624</div>
<div class="t " style="top:875px;font-size:18px;left:649.00px;">$</div>
<div class="t " style="top:875px;font-size:18px;right:865.40px;">2,000</div>
<div class="t " style="top:875px;font-size:18px;left:755.40px;">$</div>
<div class="t " style="top:875px;font-size:18px;left:718.70px;width:200px;text-align:center;">-</div>
<div class="t " style="top:875px;font-size:18px;left:861.60px;">$</div>
<div class="t " style="top:875px;font-size:18px;right:623.20px;">500</div>
<div class="t " style="top:875px;font-size:18px;left:999.00px;">$</div>
<div class="t " style="top:875px;font-size:18px;right:486.00px;">3,124</div>
<div class="t " style="top:875px;font-size:18px;left:1134.80px;">$</div>
<div class="t " style="top:875px;font-size:18px;left:1098.20px;width:200px;text-align:center;">-</div>
<div class="t " style="top:875px;font-size:18px;left:1241.60px;">$</div>
<div class="t " style="top:875px;font-size:18px;left:1204.60px;width:200px;text-align:center;">-</div>
<div class="t " style="top:875px;font-size:18px;left:1348.40px;">$</div>
<div class="t " style="top:875px;font-size:18px;right:167.00px;">5,624</div>
<div class="t i" style="top:876px;font-size:14.3px;left:1447.80px;">Finance Cmte</div>
<div class="t bi" style="top:899px;font-size:18px;left:186.00px;">Subtotal</div>
<div class="t " style="top:899px;font-size:18px;left:528.60px;">$</div>
<div class="t " style="top:899px;font-size:18px;right:971.60px;">23,586</div>
<div class="t " style="top:899px;font-size:18px;left:647.40px;">$</div>
<div class="t " style="top:899px;font-size:18px;right:865.40px;">4,000</div>
<div class="t " style="top:899px;font-size:18px;left:753.80px;">$</div>
<div class="t " style="top:899px;font-size:18px;left:718.70px;width:200px;text-align:center;">-</div>
<div class="t " style="top:899px;font-size:18px;left:860.00px;">$</div>
<div class="t " style="top:899px;font-size:18px;right:623.20px;">7,462</div>
<div class="t " style="top:899px;font-size:18px;left:997.40px;">$</div>
<div class="t " style="top:899px;font-size:18px;right:486.00px;">12,124</div>
<div class="t " style="top:899px;font-size:18px;left:1133.20px;">$</div>
<div class="t " style="top:899px;font-size:18px;left:1098.20px;width:200px;text-align:center;">-</div>
<div class="t " style="top:899px;font-size:18px;left:1240.00px;">$</div>
<div class="t " style="top:899px;font-size:18px;left:1204.60px;width:200px;text-align:center;">-</div>
<div class="t " style="top:899px;font-size:18px;left:1346.80px;">$</div>
<div class="t " style="top:899px;font-size:18px;right:167.00px;">23,586</div>
<div class="t bi" style="top:900px;font-size:14.4px;left:1394.80px;width:200px;text-align:center;">subtotal</div>
<div class="t bi" style="top:948px;font-size:14.4px;right:1423.00px;">19</div>
<div class="t bi" style="top:947px;font-size:18px;left:186.00px;">Postage</div>
<div class="t " style="top:947px;font-size:18px;left:528.60px;">$</div>
<div class="t " style="top:947px;font-size:18px;right:971.60px;">150</div>
<div class="t " style="top:947px;font-size:18px;left:649.00px;">$</div>
<div class="t " style="top:947px;font-size:18px;left:612.30px;width:200px;text-align:center;">-</div>
<div class="t " style="top:947px;font-size:18px;left:755.40px;">$</div>
<div class="t " style="top:947px;font-size:18px;left:718.70px;width:200px;text-align:center;">-</div>
<div class="t " style="top:947px;font-size:18px;left:861.60px;">$</div>
<div class="t " style="top:947px;font-size:18px;left:854.50px;width:200px;text-align:center;">-</div>
<div class="t " style="top:947px;font-size:18px;left:999.00px;">$</div>
<div class="t " style="top:947px;font-size:18px;left:991.70px;width:200px;text-align:center;">-</div>
<div class="t " style="top:947px;font-size:18px;left:1134.80px;">$</div>
<div class="t " style="top:947px;font-size:18px;right:379.80px;">150</div>
<div class="t " style="top:947px;font-size:18px;left:1241.60px;">$</div>
<div class="t " style="top:947px;font-size:18px;left:1204.60px;width:200px;text-align:center;">-</div>
<div class="t " style="top:947px;font-size:18px;left:1348.40px;">$</div>
<div class="t " style="top:947px;font-size:18px;right:167.00px;">150</div>
<div class="t i" style="top:947px;font-size:14.3px;left:1447.80px;">Finance Cmte</div>
<div class="t bi" style="top:970px;font-size:14.4px;right:1423.00px;">20</div>
<div class="t bi" style="top:969px;font-size:18px;left:186.00px;">Copier Costs</div>
<div class="t " style="top:969px;font-size:18px;left:528.60px;">$</div>
<div class="t " style="top:969px;font-size:18px;right:971.60px;">1,100</div>
<div class="t " style="top:969px;font-size:18px;left:649.00px;">$</div>
<div class="t " style="top:969px;font-size:18px;left:612.30px;width:200px;text-align:center;">-</div>
<div class="t " style="top:969px;font-size:18px;left:755.40px;">$</div>
<div class="t " style="top:969px;font-size:18px;left:718.70px;width:200px;text-align:center;">-</div>
<div class="t " style="top:969px;font-size:18px;left:861.60px;">$</div>
<div class="t " style="top:969px;font-size:18px;left:854.50px;width:200px;text-align:center;">-</div>
<div class="t " style="top:969px;font-size:18px;left:999.00px;">$</div>
<div class="t " style="top:969px;font-size:18px;left:991.70px;width:200px;text-align:center;">-</div>
<div class="t " style="top:969px;font-size:18px;left:1134.80px;">$</div>
<div class="t " style="top:969px;font-size:18px;right:379.80px;">1,100</div>
<div class="t " style="top:969px;font-size:18px;left:1241.60px;">$</div>
<div class="t " style="top:969px;font-size:18px;left:1204.60px;width:200px;text-align:center;">-</div>
<div class="t " style="top:969px;font-size:18px;left:1348.40px;">$</div>
<div class="t " style="top:969px;font-size:18px;right:167.00px;">1,100</div>
<div class="t i" style="top:970px;font-size:14.3px;left:1447.80px;">Finance Cmte</div>
<div class="t bi" style="top:993px;font-size:14.4px;right:1423.00px;">21</div>
<div class="t bi" style="top:992px;font-size:18px;left:186.00px;">Office Supplies - recurring</div>
<div class="t " style="top:992px;font-size:18px;left:528.60px;">$</div>
<div class="t " style="top:992px;font-size:18px;right:971.60px;">200</div>
<div class="t " style="top:992px;font-size:18px;left:649.00px;">$</div>
<div class="t " style="top:992px;font-size:18px;left:612.30px;width:200px;text-align:center;">-</div>
<div class="t " style="top:992px;font-size:18px;left:755.40px;">$</div>
<div class="t " style="top:992px;font-size:18px;left:718.70px;width:200px;text-align:center;">-</div>
<div class="t " style="top:992px;font-size:18px;left:861.60px;">$</div>
<div class="t " style="top:992px;font-size:18px;left:854.50px;width:200px;text-align:center;">-</div>
<div class="t " style="top:992px;font-size:18px;left:999.00px;">$</div>
<div class="t " style="top:992px;font-size:18px;left:991.70px;width:200px;text-align:center;">-</div>
<div class="t " style="top:992px;font-size:18px;left:1134.80px;">$</div>
<div class="t " style="top:992px;font-size:18px;right:379.80px;">200</div>
<div class="t " style="top:992px;font-size:18px;left:1241.60px;">$</div>
<div class="t " style="top:992px;font-size:18px;left:1204.60px;width:200px;text-align:center;">-</div>
<div class="t " style="top:992px;font-size:18px;left:1348.40px;">$</div>
<div class="t " style="top:992px;font-size:18px;right:167.00px;">200</div>
<div class="t i" style="top:992px;font-size:14.3px;left:1447.80px;">Finance Cmte</div>
<div class="t bi" style="top:1015px;font-size:14.4px;right:1423.00px;">22</div>
<div class="t bi" style="top:1014px;font-size:18px;left:186.00px;">Office Supplies - capital</div>
<div class="t " style="top:1014px;font-size:18px;left:528.60px;">$</div>
<div class="t " style="top:1014px;font-size:18px;right:971.60px;">2,362</div>
<div class="t " style="top:1014px;font-size:18px;left:649.00px;">$</div>
<div class="t " style="top:1014px;font-size:18px;left:612.30px;width:200px;text-align:center;">-</div>
<div class="t " style="top:1014px;font-size:18px;left:755.40px;">$</div>
<div class="t " style="top:1014px;font-size:18px;left:718.70px;width:200px;text-align:center;">-</div>
<div class="t " style="top:1014px;font-size:18px;left:861.60px;">$</div>
<div class="t " style="top:1014px;font-size:18px;left:854.50px;width:200px;text-align:center;">-</div>
<div class="t " style="top:1014px;font-size:18px;left:999.00px;">$</div>
<div class="t " style="top:1014px;font-size:18px;left:991.70px;width:200px;text-align:center;">-</div>
<div class="t " style="top:1014px;font-size:18px;left:1134.80px;">$</div>
<div class="t " style="top:1014px;font-size:18px;right:379.80px;">2,362</div>
<div class="t " style="top:1014px;font-size:18px;left:1241.60px;">$</div>
<div class="t " style="top:1014px;font-size:18px;left:1204.60px;width:200px;text-align:center;">-</div>
<div class="t " style="top:1014px;font-size:18px;left:1348.40px;">$</div>
<div class="t " style="top:1014px;font-size:18px;right:167.00px;">2,362</div>
<div class="t i" style="top:1014px;font-size:14.3px;left:1447.80px;">Finance Cmte</div>
<div class="t bi" style="top:1037px;font-size:14.4px;right:1423.00px;">23</div>
<div class="t bi" style="top:1036px;font-size:18px;left:186.00px;">Hospitality Supplies</div>
<div class="t " style="top:1036px;font-size:18px;left:528.60px;">$</div>
<div class="t " style="top:1036px;font-size:18px;right:971.60px;">2,160</div>
<div class="t " style="top:1036px;font-size:18px;left:649.00px;">$</div>
<div class="t " style="top:1036px;font-size:18px;right:865.40px;">2,000</div>
<div class="t " style="top:1036px;font-size:18px;left:755.40px;">$</div>
<div class="t " style="top:1036px;font-size:18px;left:718.70px;width:200px;text-align:center;">-</div>
<div class="t " style="top:1036px;font-size:18px;left:861.60px;">$</div>
<div class="t " style="top:1036px;font-size:18px;left:854.50px;width:200px;text-align:center;">-</div>
<div class="t " style="top:1036px;font-size:18px;left:999.00px;">$</div>
<div class="t " style="top:1036px;font-size:18px;left:991.70px;width:200px;text-align:center;">-</div>
<div class="t " style="top:1036px;font-size:18px;left:1134.80px;">$</div>
<div class="t " style="top:1036px;font-size:18px;right:379.80px;">160</div>
<div class="t " style="top:1036px;font-size:18px;left:1241.60px;">$</div>
<div class="t " style="top:1036px;font-size:18px;left:1204.60px;width:200px;text-align:center;">-</div>
<div class="t " style="top:1036px;font-size:18px;left:1348.40px;">$</div>
<div class="t " style="top:1036px;font-size:18px;right:167.00px;">2,160</div>
<div class="t i" style="top:1037px;font-size:14.3px;left:1447.80px;">Finance Cmte</div>
<div class="t bi" style="top:1059px;font-size:14.4px;right:1423.00px;">24</div>
<div class="t bi" style="top:1058px;font-size:18px;left:186.00px;">Miscellaneous</div>
<div class="t " style="top:1058px;font-size:18px;left:528.60px;">$</div>
<div class="t " style="top:1058px;font-size:18px;right:971.60px;">4,132</div>
<div class="t " style="top:1058px;font-size:18px;left:649.00px;">$</div>
<div class="t " style="top:1058px;font-size:18px;right:865.40px;">2,062</div>
<div class="t " style="top:1058px;font-size:18px;left:755.40px;">$</div>
<div class="t " style="top:1058px;font-size:18px;right:759.20px;">2,000</div>
<div class="t " style="top:1058px;font-size:18px;left:861.60px;">$</div>
<div class="t " style="top:1058px;font-size:18px;left:854.50px;width:200px;text-align:center;">-</div>
<div class="t " style="top:1058px;font-size:18px;left:999.00px;">$</div>
<div class="t " style="top:1058px;font-size:18px;left:991.70px;width:200px;text-align:center;">-</div>
<div class="t " style="top:1058px;font-size:18px;left:1134.80px;">$</div>
<div class="t " style="top:1058px;font-size:18px;right:379.80px;">70</div>
<div class="t " style="top:1058px;font-size:18px;left:1241.60px;">$</div>
<div class="t " style="top:1058px;font-size:18px;left:1204.60px;width:200px;text-align:center;">-</div>
<div class="t " style="top:1058px;font-size:18px;left:1348.40px;">$</div>
<div class="t " style="top:1058px;font-size:18px;right:167.00px;">4,132</div>
<div class="t i" style="top:1059px;font-size:14.3px;left:1447.80px;">Finance Cmte</div>
<div class="t bi" style="top:1082px;font-size:14.4px;right:1423.00px;">25</div>
<div class="t bi" style="top:1081px;font-size:18px;left:186.00px;">Bank Service Charges</div>
<div class="t " style="top:1081px;font-size:18px;left:528.60px;">$</div>
<div class="t " style="top:1081px;font-size:18px;right:971.60px;">60</div>
<div class="t " style="top:1081px;font-size:18px;left:649.00px;">$</div>
<div class="t " style="top:1081px;font-size:18px;left:612.30px;width:200px;text-align:center;">-</div>
<div class="t " style="top:1081px;font-size:18px;left:755.40px;">$</div>
<div class="t " style="top:1081px;font-size:18px;left:718.70px;width:200px;text-align:center;">-</div>
<div class="t " style="top:1081px;font-size:18px;left:861.60px;">$</div>
<div class="t " style="top:1081px;font-size:18px;left:854.50px;width:200px;text-align:center;">-</div>
<div class="t " style="top:1081px;font-size:18px;left:999.00px;">$</div>
<div class="t " style="top:1081px;font-size:18px;left:991.70px;width:200px;text-align:center;">-</div>
<div class="t " style="top:1081px;font-size:18px;left:1134.80px;">$</div>
<div class="t " style="top:1081px;font-size:18px;right:379.80px;">60</div>
<div class="t " style="top:1081px;font-size:18px;left:1241.60px;">$</div>
<div class="t " style="top:1081px;font-size:18px;left:1204.60px;width:200px;text-align:center;">-</div>
<div class="t " style="top:1081px;font-size:18px;left:1348.40px;">$</div>
<div class="t " style="top:1081px;font-size:18px;right:167.00px;">60</div>
<div class="t i" style="top:1081px;font-size:14.3px;left:1447.80px;">Finance Cmte</div>
<div class="t bi" style="top:1104px;font-size:14.4px;right:1423.00px;">26</div>
<div class="t bi" style="top:1103px;font-size:18px;left:186.00px;">Advertising</div>
<div class="t " style="top:1103px;font-size:18px;left:528.60px;">$</div>
<div class="t " style="top:1103px;font-size:18px;right:971.60px;">60</div>
<div class="t " style="top:1103px;font-size:18px;left:649.00px;">$</div>
<div class="t " style="top:1103px;font-size:18px;left:612.30px;width:200px;text-align:center;">-</div>
<div class="t " style="top:1103px;font-size:18px;left:755.40px;">$</div>
<div class="t " style="top:1103px;font-size:18px;left:718.70px;width:200px;text-align:center;">-</div>
<div class="t " style="top:1103px;font-size:18px;left:861.60px;">$</div>
<div class="t " style="top:1103px;font-size:18px;left:854.50px;width:200px;text-align:center;">-</div>
<div class="t " style="top:1103px;font-size:18px;left:999.00px;">$</div>
<div class="t " style="top:1103px;font-size:18px;left:991.70px;width:200px;text-align:center;">-</div>
<div class="t " style="top:1103px;font-size:18px;left:1134.80px;">$</div>
<div class="t " style="top:1103px;font-size:18px;right:379.80px;">60</div>
<div class="t " style="top:1103px;font-size:18px;left:1241.60px;">$</div>
<div class="t " style="top:1103px;font-size:18px;left:1204.60px;width:200px;text-align:center;">-</div>
<div class="t " style="top:1103px;font-size:18px;left:1348.40px;">$</div>
<div class="t " style="top:1103px;font-size:18px;right:167.00px;">60</div>
<div class="t i" style="top:1104px;font-size:14.3px;left:1447.80px;">Finance Cmte</div>
<div class="t bi" style="top:1125px;font-size:18px;left:186.00px;">Subtotal</div>
<div class="t " style="top:1125px;font-size:18px;left:528.60px;">$</div>
<div class="t " style="top:1125px;font-size:18px;right:971.60px;">10,224</div>
<div class="t " style="top:1125px;font-size:18px;left:647.40px;">$</div>
<div class="t " style="top:1125px;font-size:18px;right:865.40px;">4,062</div>
<div class="t " style="top:1125px;font-size:18px;left:753.80px;">$</div>
<div class="t " style="top:1125px;font-size:18px;right:759.20px;">2,000</div>
<div class="t " style="top:1125px;font-size:18px;left:860.00px;">$</div>
<div class="t " style="top:1125px;font-size:18px;left:854.50px;width:200px;text-align:center;">-</div>
<div class="t " style="top:1125px;font-size:18px;left:997.40px;">$</div>
<div class="t " style="top:1125px;font-size:18px;left:991.70px;width:200px;text-align:center;">-</div>
<div class="t " style="top:1125px;font-size:18px;left:1133.20px;">$</div>
<div class="t " style="top:1125px;font-size:18px;right:379.80px;">4,162</div>
<div class="t " style="top:1125px;font-size:18px;left:1240.00px;">$</div>
<div class="t " style="top:1125px;font-size:18px;left:1204.60px;width:200px;text-align:center;">-</div>
<div class="t " style="top:1125px;font-size:18px;left:1346.80px;">$</div>
<div class="t " style="top:1125px;font-size:18px;right:167.00px;">10,224</div>
<div class="t bi" style="top:1126px;font-size:14.4px;left:1394.80px;width:200px;text-align:center;">subtotal</div>
</body></html>
